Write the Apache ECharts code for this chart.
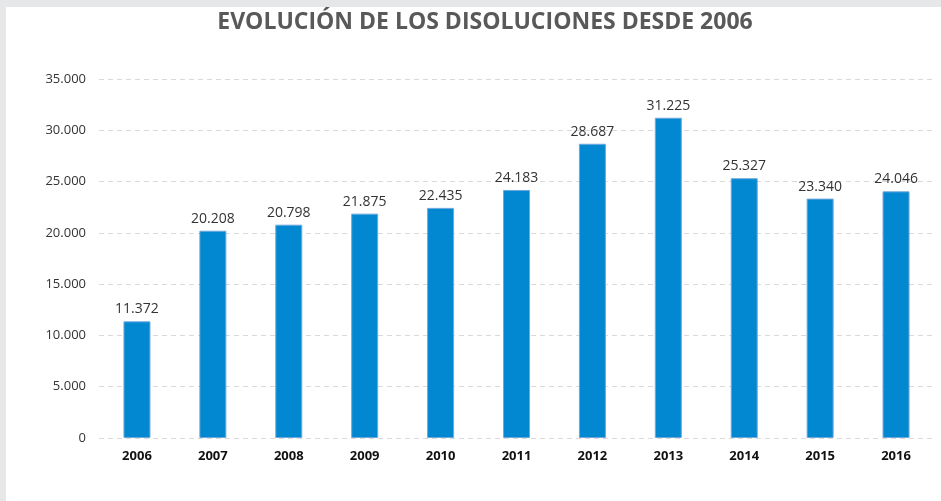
<!DOCTYPE html>
<html>
<head>
<meta charset="utf-8">
<script src="https://cdn.jsdelivr.net/npm/echarts@6/dist/echarts.min.js"></script>
<style>
  html, body { margin: 0; padding: 0; background: #e6e7e9; }
  #chart { position: absolute; left: 6px; top: 7px; width: 935px; height: 494px; background: #fff; }
</style>
</head>
<body>
<div id="chart"></div>
<script>
// datos
const years = ['2006', '2007', '2008', '2009', '2010', '2011', '2012', '2013', '2014', '2015', '2016']
const disoluciones = [11372, 20208, 20798, 21875, 22435, 24183, 28687, 31225, 25327, 23340, 24046]

// 35000 -> 35.000
function fmt(v){
  return String(v).replace(/\B(?=(\d{3})+(?!\d))/g, '.')
}

const myChart = echarts.init(document.getElementById('chart'))
const option = {
  animation: false,
  title: {
    text: 'EVOLUCIÓN DE LOS DISOLUCIONES DESDE 2006',
    left: 474,
    textAlign: 'center',
    top: -1,
    textStyle: {
      color: '#595959',
      fontFamily: 'Open Sans',
      fontWeight: 'bold',
      fontSize: 23
    }
  },
  grid: {
    left: 93,
    right: 7,
    top: 72,
    bottom: 63
  },
  xAxis: {
    type: 'category',
    data: years,
    axisLine: { show: false },
    axisTick: { show: false },
    axisLabel: {
      color: '#111',
      fontFamily: 'Open Sans',
      fontWeight: 'bold',
      fontSize: 13,
      margin: 12
    }
  },
  yAxis: {
    type: 'value',
    min: 0,
    max: 35000,
    interval: 5000,
    axisLine: { show: false },
    axisTick: { show: false },
    axisLabel: {
      color: '#333',
      fontFamily: 'Open Sans',
      fontSize: 13,
      margin: 13,
      formatter: fmt
    },
    splitLine: {
      lineStyle: { color: '#d9d9d9', type: [5, 4] }
    }
  },
  series: [{
    type: 'bar',
    data: disoluciones,
    barWidth: 27,
    itemStyle: {
      color: '#0288d1',
      borderColor: '#6fa8dc',
      borderWidth: 1
    },
    label: {
      show: true,
      position: 'top',
      distance: 5,
      color: '#333',
      fontFamily: 'Open Sans',
      fontSize: 14,
      formatter: p => fmt(p.value)
    }
  }]
}
myChart.setOption(option)
</script>
</body>
</html>
